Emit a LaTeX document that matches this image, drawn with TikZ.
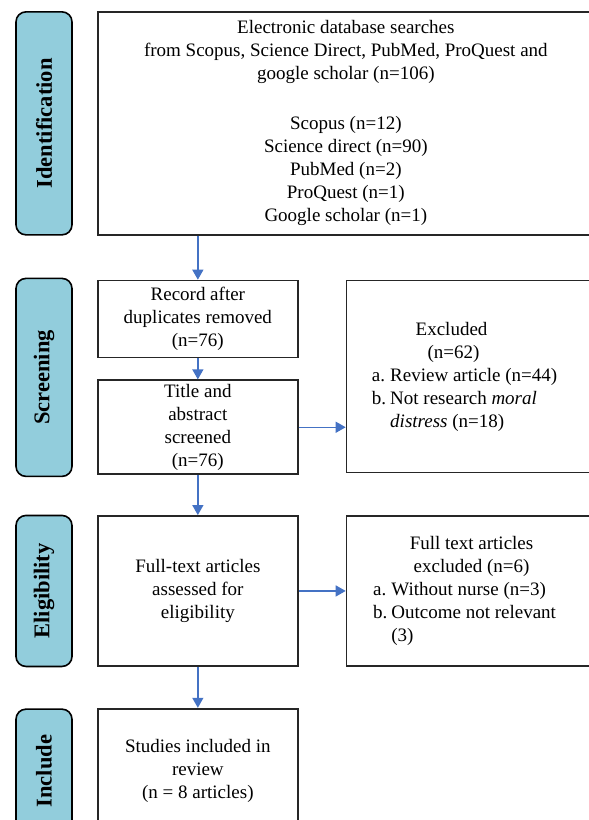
\documentclass[tikz,border=0pt]{standalone}
\usepackage{fontspec}
\setmainfont{Liberation Serif}
\usetikzlibrary{positioning,arrows.meta,calc}

\definecolor{stageblue}{HTML}{92CDDC}
\definecolor{flowblue}{HTML}{4472C4}

\tikzset{
  box/.style={rectangle, draw=black!85, line width=1.7pt, align=center, inner sep=2pt,
    font=\fontsize{19}{23}\selectfont},
  stage/.style={rectangle, rounded corners=10pt, draw=black, line width=1.6pt, fill=stageblue,
    rotate=90, minimum height=56pt, font=\fontsize{22.5}{27}\selectfont\bfseries},
  flow/.style={-{Triangle[width=11pt,length=10pt]}, draw=flowblue, line width=1.3pt}
}

\begin{document}
\begin{tikzpicture}[x=1pt, y=1pt]
  \useasboundingbox (0,0) rectangle (589,-820);
  \clip (0,0) rectangle (589,-820);

  % Boxes
  \node[box, minimum width=496pt, minimum height=223pt, anchor=north west] (search) at (97,-11)
    {Electronic database  searches\\ from Scopus,  Science Direct, PubMed,  ProQuest and\\
     google  scholar  (n=106)\\[27pt] Scopus (n=12)\\ Science direct (n=90)\\ PubMed (n=2)\\
     ProQuest (n=1)\\ Google scholar (n=1)};
  \node[box, minimum width=200pt, minimum height=77pt, below right=44pt and 0pt of search.south west] (record)
    {Record after\\ duplicates removed\\ (n=76)};
  \node[box, minimum width=200pt, minimum height=94pt, below=21pt of record] (title)
    {Title and\\ abstract\\ screened\\ (n=76)};
  \node[box, minimum width=250pt, minimum height=192pt, below right=0pt and 47pt of record.north east] (excl)
    {\begin{tabular}{@{}l@{\hspace{4pt}}l@{\hspace{14pt}}}
       \multicolumn{2}{@{}c@{\hspace{40pt}}}{Excluded}\\
       \multicolumn{2}{@{}c@{\hspace{36pt}}}{(n=62)}\\
       a. & Review article  (n=44)\\
       b. & Not research \textit{moral}\\
          & \textit{distress} (n=18)
     \end{tabular}};
  \node[box, minimum width=200pt, minimum height=150pt, below=40pt of title] (full)
    {Full-text articles\\ assessed for\\ eligibility};
  \node[box, minimum width=250pt, minimum height=150pt, below right=0pt and 47pt of full.north east] (fullexcl)
    {\begin{tabular}{@{}l@{\hspace{4pt}}l@{\hspace{14pt}}}
       \multicolumn{2}{@{}c@{}}{Full text articles}\\
       \multicolumn{2}{@{}c@{}}{excluded (n=6)}\\
       a. & Without nurse  (n=3)\\
       b. & Outcome not  relevant\\
          & (3)
     \end{tabular}};
  \node[box, minimum width=200pt, minimum height=125pt, below=41pt of full] (studies)
    {Studies included in\\ review\\ (n = 8 articles)};

  % Stage labels
  \coordinate (lx) at (44,0);
  \coordinate (scrmid) at ($(record.north)!0.5!(title.south)$);
  \node[stage, minimum width=223pt] (identification) at (search.west -| lx) {Identification};
  \node[stage, minimum width=198pt] (screening) at (scrmid -| lx) {Screening};
  \node[stage, minimum width=151pt] (eligibility) at (full.west -| lx) {Eligibility};
  \node[stage, minimum width=124pt] (include) at (studies.west -| lx) {Include};

  % Arrows
  \draw[flow] (search.south -| record.north) -- (record.north);
  \draw[flow] (record) -- (title);
  \draw[flow] (title.east) -- (title.east -| excl.west);
  \draw[flow] (title) -- (full);
  \draw[flow] (full.east) -- (full.east -| fullexcl.west);
  \draw[flow] (full) -- (studies);
\end{tikzpicture}
\end{document}
